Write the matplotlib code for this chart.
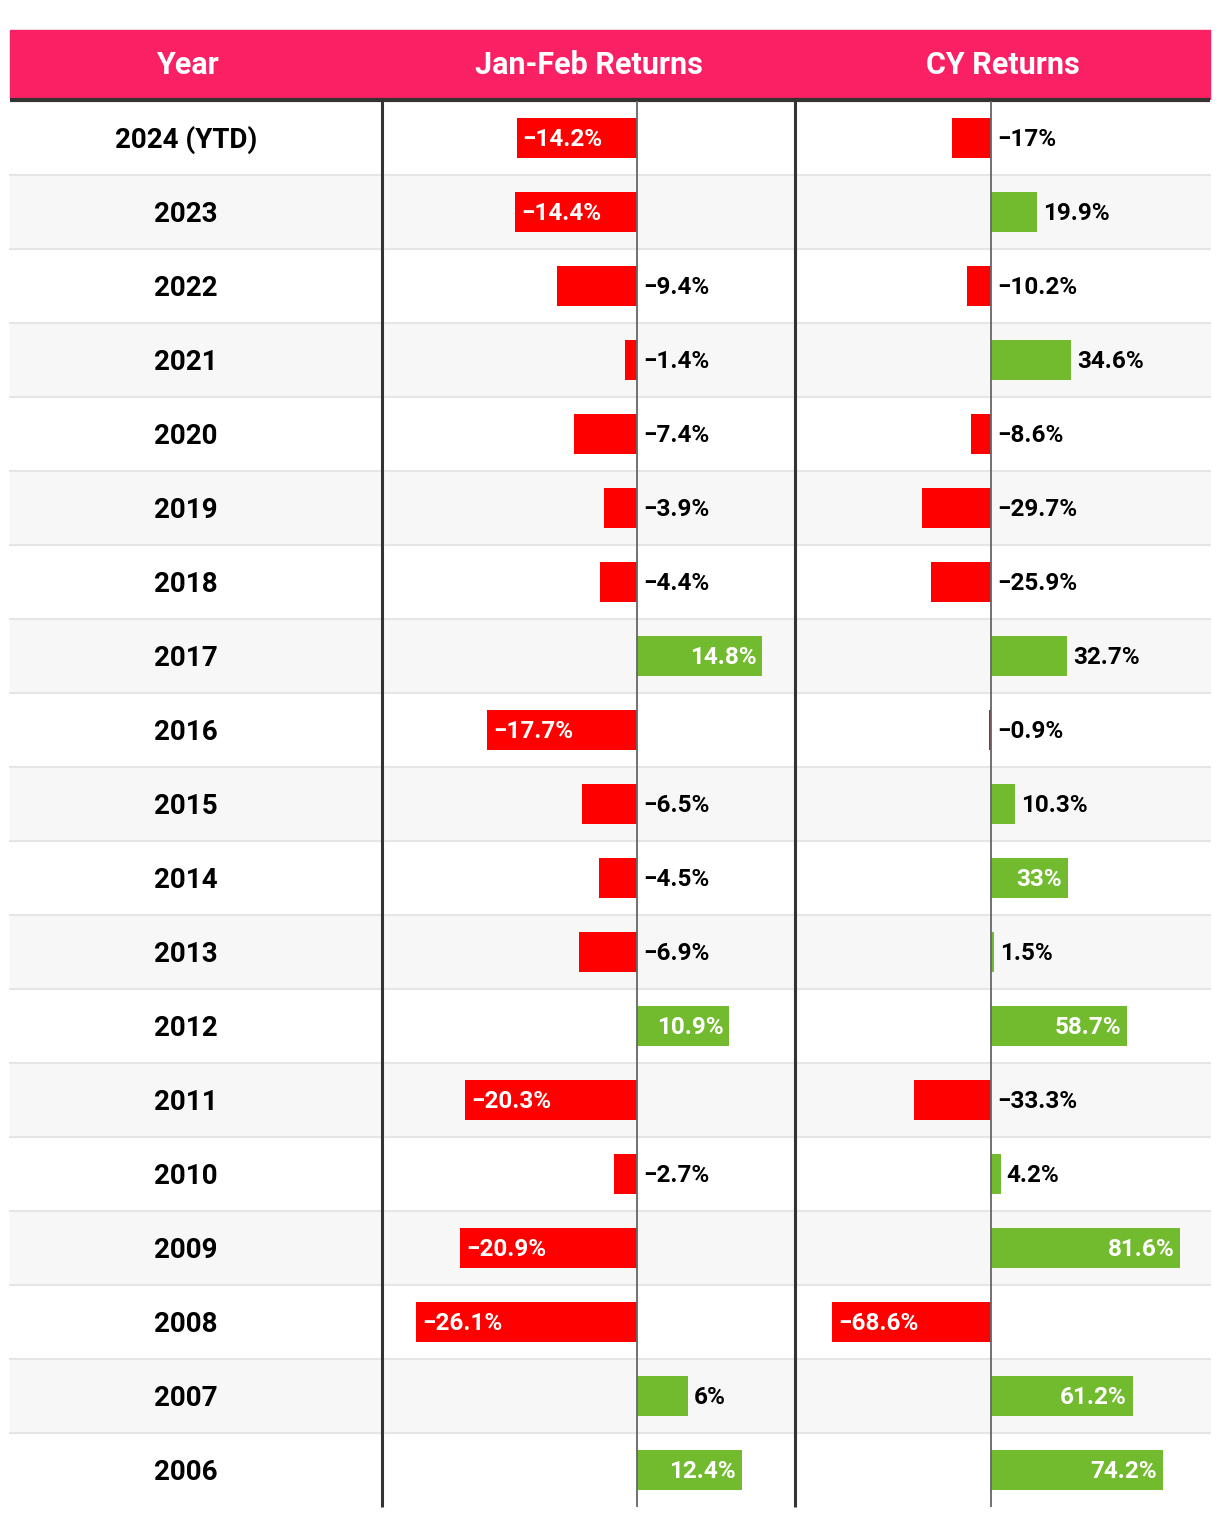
import matplotlib
matplotlib.use("Agg")
import matplotlib.pyplot as plt
from matplotlib.patches import Rectangle
from matplotlib.transforms import offset_copy

plt.rcParams["font.family"] = ["Roboto", "DejaVu Sans"]

years = ["2024 (YTD)", "2023", "2022", "2021", "2020", "2019", "2018", "2017",
         "2016", "2015", "2014", "2013", "2012", "2011", "2010", "2009",
         "2008", "2007", "2006"]
jan_feb = [-14.2, -14.4, -9.4, -1.4, -7.4, -3.9, -4.4, 14.8, -17.7, -6.5,
           -4.5, -6.9, 10.9, -20.3, -2.7, -20.9, -26.1, 6, 12.4]
cy = [-17, 19.9, -10.2, 34.6, -8.6, -29.7, -25.9, 32.7, -0.9, 10.3, 33,
      1.5, 58.7, -33.3, 4.2, 81.6, -68.6, 61.2, 74.2]
headers = ["Year", "Jan-Feb Returns", "CY Returns"]

PINK = "#FA2064"
RED = "#FF0000"
GREEN = "#72BB2E"
DARK = "#333333"

W, H = 1220, 1516
fig = plt.figure(figsize=(W / 100, H / 100), dpi=100)

# table geometry in pixels
left, right = 10, 1210
head_top, head_bot = 30, 99
body_top, body_bot = 101, 1507
col_x = [left, 382, 795, right]
n = len(years)
rh = (body_bot - body_top) / n

bg = fig.add_axes([0, 0, 1, 1])
bg.set_xlim(0, W)
bg.set_ylim(H, 0)
bg.axis("off")

bg.add_patch(Rectangle((left, head_top), right - left, head_bot - head_top,
                       color=PINK, zorder=1))
for i in range(n):
    y = body_top + i * rh
    if i % 2 == 1:
        bg.add_patch(Rectangle((left, y), right - left, rh, color="#F7F7F7", zorder=1))
    if i > 0:
        bg.plot([left, right], [y, y], color="#E6E6E6", lw=1.5, zorder=2)
bg.plot([left, right], [head_bot + 1, head_bot + 1], color=DARK, lw=3, zorder=3,
        solid_capstyle="butt")
for x in col_x[1:3]:
    bg.plot([x, x], [body_top, body_bot], color=DARK, lw=2.2, zorder=3,
            solid_capstyle="butt")

head_cx = [187, (col_x[1] + col_x[2]) / 2, (col_x[2] + col_x[3]) / 2]
for cx, h in zip(head_cx, headers):
    bg.text(cx, (head_top + head_bot) / 2 + 1, h, color="white", fontsize=22,
            fontweight="bold", ha="center", va="center", zorder=4)
for i, yr in enumerate(years):
    bg.text(186, body_top + (i + 0.5) * rh + 2, yr, color="black", fontsize=20,
            fontweight="bold", ha="center", va="center", zorder=4)


def bar_panel(x0, x1, zero_x, px_per_pct, values):
    ax = fig.add_axes([x0 / W, 1 - body_bot / H, (x1 - x0) / W,
                       (body_bot - body_top) / H])
    ax.set_xlim(-(zero_x - x0) / px_per_pct, (x1 - zero_x) / px_per_pct)
    ax.set_ylim(n, 0)
    ax.axis("off")
    ax.patch.set_alpha(0)
    pos = [i + 0.5 for i in range(n)]
    colors = [GREEN if v >= 0 else RED for v in values]
    ax.barh(pos, values, height=0.54, color=colors, zorder=2)
    ax.axvline(0, color="#666666", lw=1.3, zorder=3)

    renderer = fig.canvas.get_renderer()
    t_right = offset_copy(ax.transData, fig=fig, x=6, y=-1, units="dots")
    t_left = offset_copy(ax.transData, fig=fig, x=-6, y=-1, units="dots")
    for p, v in zip(pos, values):
        s = f"{v:g}%".replace("-", "\u2212")
        t = ax.text(0, p, s, fontsize=17.5, fontweight="bold", va="center", zorder=4)
        tw = t.get_window_extent(renderer).width
        bw = abs(v) * px_per_pct
        if bw >= tw + 24:
            t.set_color("white")
            t.set_position((v, p))
            if v < 0:
                t.set_transform(t_right)
                t.set_ha("left")
            else:
                t.set_transform(t_left)
                t.set_ha("right")
        else:
            t.set_color("black")
            t.set_position((max(v, 0), p))
            t.set_transform(t_right)
            t.set_ha("left")
    return ax


bar_panel(col_x[1], col_x[2], 637, 8.47, jan_feb)
bar_panel(col_x[2], col_x[3], 991, 2.32, cy)

fig.savefig("out.png", dpi=100, facecolor="white")
